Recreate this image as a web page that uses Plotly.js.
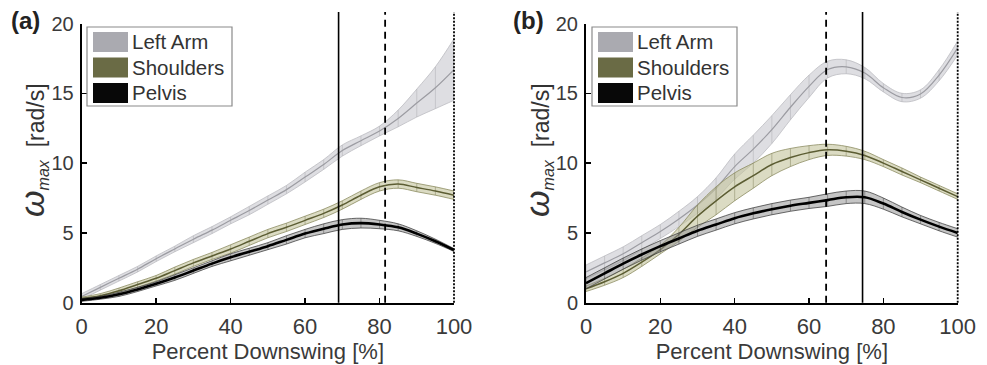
<!DOCTYPE html>
<html>
<head>
<meta charset="utf-8">
<script src="https://cdn.plot.ly/plotly-3.0.1.min.js"></script>
<style>html,body{margin:0;padding:0;background:#fff;}#chart{width:987px;height:365px;}</style>
</head>
<body>
<div id="chart"></div>
<script>
// ---------- DATA ----------
const pct = [0,5,10,15,20,25,30,35,40,45,50,55,60,65,70,75,80,85,90,95,100];
const seriesNames = ['Left Arm','Shoulders','Pelvis'];

// Panel (a)
const aLeftArm     = [0.45,1.1,1.75,2.4,3.15,3.85,4.55,5.2,5.9,6.6,7.35,8.1,9.0,9.9,10.9,11.6,12.3,13.2,14.3,15.4,16.7];
const aLeftArmSD   = [0.2,0.2,0.2,0.2,0.2,0.2,0.25,0.25,0.25,0.3,0.3,0.3,0.35,0.35,0.4,0.35,0.35,0.6,1.0,1.5,2.2];
const aShoulders   = [0.3,0.5,0.85,1.3,1.75,2.3,2.85,3.35,3.85,4.4,4.95,5.4,5.9,6.4,7.0,7.7,8.3,8.5,8.25,8.0,7.7];
const aShouldersSD = [0.1,0.15,0.2,0.2,0.2,0.25,0.25,0.25,0.3,0.3,0.3,0.3,0.3,0.3,0.3,0.3,0.3,0.3,0.3,0.3,0.3];
const aPelvis      = [0.2,0.35,0.6,0.95,1.35,1.8,2.3,2.8,3.25,3.65,4.05,4.5,4.95,5.3,5.6,5.7,5.6,5.4,4.95,4.4,3.77];
const aPelvisSD    = [0.1,0.1,0.15,0.15,0.15,0.2,0.2,0.2,0.25,0.25,0.25,0.3,0.3,0.35,0.35,0.35,0.3,0.25,0.2,0.15,0.1];
const aEvents = {solid: 69, dashed: 81.5, dotted: 100};

// Panel (b)
const bLeftArm     = [2.2,2.85,3.5,4.3,5.1,6.0,7.0,8.2,9.75,11.0,12.4,14.0,15.5,16.7,16.9,16.45,15.4,14.7,14.95,16.3,18.25];
const bLeftArmSD   = [0.5,0.5,0.5,0.5,0.5,0.55,0.6,0.75,0.9,1.0,1.0,0.9,0.8,0.6,0.5,0.4,0.3,0.3,0.3,0.4,0.5];
const bShoulders   = [1.0,1.5,2.1,2.9,3.8,4.9,6.2,7.3,8.3,9.1,9.9,10.4,10.75,10.95,10.85,10.55,10.0,9.4,8.8,8.2,7.6];
const bShouldersSD = [0.2,0.25,0.3,0.3,0.3,0.5,0.8,1.0,1.0,0.9,0.8,0.65,0.5,0.4,0.35,0.3,0.25,0.25,0.2,0.2,0.2];
const bPelvis      = [1.4,2.1,2.8,3.45,4.05,4.6,5.15,5.6,6.05,6.4,6.7,6.95,7.15,7.35,7.55,7.55,7.1,6.5,5.95,5.45,5.0];
const bPelvisSD    = [0.4,0.4,0.4,0.4,0.4,0.4,0.4,0.4,0.4,0.4,0.4,0.4,0.4,0.45,0.45,0.45,0.4,0.35,0.3,0.3,0.3];
const bEvents = {solid: 74.4, dashed: 64.6, dotted: 100};

const xRange = [0,100];
const yRange = [0,20];
const xTicks = [0,20,40,60,80,100];
const yTicks = [0,5,10,15,20];

// ---------- STYLE ----------
const styles = [
  {fill:'rgba(205,205,210,0.65)', edge:'#bdbdc2', mean:'#9c9ca2', meanW:1.2, hatch:'rgba(160,160,166,0.4)', swatch:'#aaaab0'},
  {fill:'rgba(195,195,155,0.6)',  edge:'#8d8d62', mean:'#5c5d33', meanW:1.5, hatch:'rgba(110,110,70,0.4)',  swatch:'#6a6b45'},
  {fill:'rgba(150,150,150,0.55)', edge:'#444',    mean:'#000',    meanW:2.6, hatch:'rgba(50,50,50,0.4)',    swatch:'#080808'}
];
const FONT = 'Liberation Sans, Arial, sans-serif';
const W = 987, H = 365;
const px = v => v / W;
const py = v => 1 - v / H;

function bandTraces(mean, sd, st, xa, ya) {
  const lo = mean.map((m,i) => m - sd[i]);
  const hi = mean.map((m,i) => m + sd[i]);
  return [
    {x:pct, y:lo, xaxis:xa, yaxis:ya, mode:'lines', line:{color:st.edge, width:0.8, shape:'spline'}, showlegend:false, hoverinfo:'skip'},
    {x:pct, y:hi, xaxis:xa, yaxis:ya, mode:'lines', fill:'tonexty', fillcolor:st.fill, line:{color:st.edge, width:0.8, shape:'spline'}, showlegend:false, hoverinfo:'skip'},
    {x:pct, y:mean, xaxis:xa, yaxis:ya, mode:'lines', line:{color:st.mean, width:st.meanW, shape:'spline'}, showlegend:false,
     error_y:{type:'data', array:sd, visible:true, width:0, thickness:1, color:st.hatch}}
  ];
}

const traces = [];
[[aLeftArm,aLeftArmSD],[aShoulders,aShouldersSD],[aPelvis,aPelvisSD]].forEach((d,i)=>traces.push(...bandTraces(d[0],d[1],styles[i],'x','y')));
[[bLeftArm,bLeftArmSD],[bShoulders,bShouldersSD],[bPelvis,bPelvisSD]].forEach((d,i)=>traces.push(...bandTraces(d[0],d[1],styles[i],'x2','y2')));

const yDom = [py(302.7), py(23.5)];
function xAxis(dom){
  return {domain:dom, range:xRange, tickvals:xTicks, ticks:'inside', ticklen:5, tickwidth:1.5, tickcolor:'#000',
          showline:true, linecolor:'#000', linewidth:2, showgrid:false, zeroline:false,
          tickfont:{family:FONT, size:22, color:'#3a3a3a'}, ticklabelstandoff:3,
          title:{text:'Percent Downswing [%]', font:{family:FONT, size:22, color:'#3a3a3a'}, standoff:3}};
}
function yAxis(anchor){
  return {domain:yDom, anchor:anchor, range:yRange, tickvals:yTicks, ticks:'inside', ticklen:5, tickwidth:1.5, tickcolor:'#000',
          showline:true, linecolor:'#000', linewidth:2, showgrid:false, zeroline:false,
          tickfont:{family:FONT, size:20, color:'#3a3a3a'}, ticklabelstandoff:2};
}

const shapes = [];
const annotations = [];
// vertical event markers: x positions given in data units, converted to the axis-domain fraction of the range
function eventLines(ev, xr){
  const y0 = yDom[0], y1 = py(12);
  const f = v => (v - xRange[0]) / (xRange[1] - xRange[0]);
  shapes.push({type:'line', xref:xr+' domain', yref:'paper', x0:f(ev.solid), x1:f(ev.solid), y0:y0, y1:y1, line:{color:'#000', width:1.6}});
  shapes.push({type:'line', xref:xr+' domain', yref:'paper', x0:f(ev.dashed), x1:f(ev.dashed), y0:y0, y1:y1, line:{color:'#000', width:1.8, dash:'7px,5px'}});
  shapes.push({type:'line', xref:xr+' domain', yref:'paper', x0:f(ev.dotted), x1:f(ev.dotted), y0:y0, y1:y1, line:{color:'#000', width:1.8, dash:'2px,1.5px'}});
}
eventLines(aEvents,'x');
eventLines(bEvents,'x2');

function legendBox(left){
  shapes.push({type:'rect', xref:'paper', yref:'paper', x0:px(left), x1:px(left+145), y0:py(106), y1:py(27),
               line:{color:'#8a8a8a', width:1.2}, fillcolor:'#fff', layer:'above'});
  const rows = [[32,52],[57.5,77.5],[83,103]];
  rows.forEach((r,i)=>{
    shapes.push({type:'rect', xref:'paper', yref:'paper', x0:px(left+6), x1:px(left+41), y0:py(r[1]), y1:py(r[0]),
                 line:{width:0}, fillcolor:styles[i].swatch, layer:'above'});
    annotations.push({xref:'paper', yref:'paper', x:px(left+43), y:py((r[0]+r[1])/2), xanchor:'left', yanchor:'middle',
                      text:seriesNames[i], showarrow:false, font:{family:FONT, size:20.5, color:'#333'}});
  });
}
legendBox(87);
legendBox(592);

function yTitle(xc){
  annotations.push({xref:'paper', yref:'paper', x:px(xc), y:py(150), textangle:-90, showarrow:false,
    xanchor:'center', yanchor:'middle',
    text:'<span style="font-size:34px"><i>ω</i></span><sub><i>max</i></sub>  [rad/s]',
    font:{family:FONT, size:23, color:'#333'}});
}
yTitle(32);
yTitle(537);

annotations.push({xref:'paper', yref:'paper', x:px(25), y:py(21), text:'<b>(a)</b>', showarrow:false, xanchor:'center', yanchor:'middle', font:{family:FONT, size:24, color:'#222'}});
annotations.push({xref:'paper', yref:'paper', x:px(528), y:py(21), text:'<b>(b)</b>', showarrow:false, xanchor:'center', yanchor:'middle', font:{family:FONT, size:24, color:'#222'}});

const layout = {
  width:W, height:H, margin:{l:0,r:0,t:0,b:0}, paper_bgcolor:'#fff', plot_bgcolor:'rgba(0,0,0,0)',
  showlegend:false,
  xaxis: Object.assign(xAxis([px(81.7), px(454)]), {anchor:'y'}),
  yaxis: yAxis('x'),
  xaxis2: Object.assign(xAxis([px(586), px(957.7)]), {anchor:'y2'}),
  yaxis2: yAxis('x2'),
  shapes: shapes, annotations: annotations,
  font:{family:FONT}
};

Plotly.newPlot('chart', traces, layout, {staticPlot:true, displayModeBar:false});
</script>
</body>
</html>
